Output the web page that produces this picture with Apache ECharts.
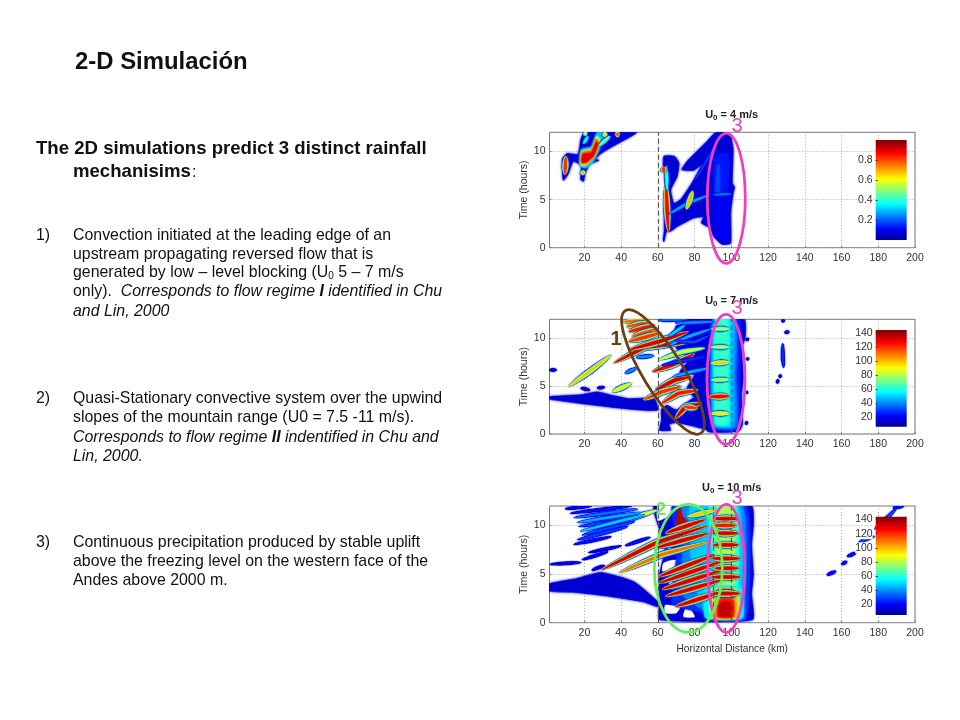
<!DOCTYPE html>
<html><head><meta charset="utf-8">
<style>html,body{margin:0;padding:0;background:#fff}#c{width:960px;height:720px}</style>
<script src="https://cdn.jsdelivr.net/npm/echarts@6/dist/echarts.min.js"></script>
</head><body><div id="c"></div>
<script>
// ---------- axis data ----------
const distanceTicks = [20,40,60,80,100,120,140,160,180,200];
const timeTicks = [0,5,10];
const panelTitles = ['4','7','10'];
const panelMax = [1,145,145];
const barMin = [0,7,5];
const barMax = [1,145,144];
const barTicks1 = [0.2,0.4,0.6,0.8];
const barTicks2 = [20,40,60,80,100,120,140];
const dashed1 = [60];
const dashed2 = [60,100];
const dashed3 = [60,90,100];

// ---------- contour areas: [value, [km, hours], ...] ----------
const areas1 = [
 [0.07,[8.5,7],[8,9.2],[10.5,9.8],[16.5,9.7],[18,11.2],[20,12],[48.5,12],[36,10.6],[29,9.8],[26,9.2],[28,9.1],[23,8.7],[20.5,7.8],[19.5,6.9],[18,7.1],[18.2,8.5],[14,9],[11,7.6]],
 [0.3,[17.5,8.5],[18.3,10.2],[24,10.5],[27,12],[31,12],[28,10.2],[25,9],[21,8.3]],
 [0.55,[18,8.6],[18.6,10],[24,10.3],[26.7,11.6],[28.5,11.2],[25.7,9.6],[21,8.6]],
 [0.75,[18.3,8.8],[18.9,9.9],[24,10.1],[26.5,11.3],[27.8,11],[25.4,9.6],[21,8.8]],
 [0.9,[18.7,8.9],[19.2,9.7],[24,9.9],[26.5,11],[27.3,10.8],[25,9.6],[21,8.9]],
 [0.07,[63.3,0.6],[64.7,1.7],[66.9,1.7],[70.5,2.2],[79.6,3.1],[85,3.2],[83.6,2.6],[88.7,2],[90.5,1.15],[95,0.35],[99.6,0.45],[99.6,3.6],[101,5.7],[101.8,6.3],[100.5,6.7],[101,10.2],[99.6,11.6],[96,12],[91.5,12],[87,11.1],[76,9],[73,8.1],[79.6,8.05],[85,8.8],[78,6.55],[72.4,5],[68.7,4.6],[67,6],[70.5,7.4],[71.5,8.8],[69,9.5],[63.3,9.5],[63,8.5],[65,6.7],[64,5],[63.5,3.2],[63.5,1.7],[62.9,0.8]],
 [0.1,[92,1.2],[98,1],[98,5.3],[91,5.3]],
 [0.13,[91,5.8],[98,5.9],[98,9.8],[91,9.5]],
 [0.18,[91.5,5.6],[92.5,8.6],[93.5,8.6],[93.5,5.7]]
];
const streaks1 = [
 [0.95,65.8,1.6,65,4,64.4,6.8],
 [0.45,65,6,64.6,8.5],
 [0.9,63,8.4,63.4,7.8],
 [0.3,66,3.5,76,4.6,88,5.5],
 [0.75,75.5,4,77.5,5,79,5.9],
 [0.18,80,7,88,9.5,94,11.5],
 [0.24,90,5.5,100,5.6],
 [0.9,9.4,7.6,9.9,9.5],
 [0.75,19,8,19.4,7.6],
 [0.6,20,12,21,11.7],
 [0.7,31,12,31.4,11.5],
 [0.85,37,11.8,39,11.8],
 [0.5,28,10.6,34,11.6],
 [0.4,19.5,10.8,22,11.6]
];

const areas2 = [
 [10,[1,3.9],[18,4.1],[27,4.4],[36,4],[44,3.7],[58,3.7],[60,2.5],[45,2.6],[18,3.2],[1,3.65]],
 [10,[61,0.4],[67,0.4],[66,1],[70,1.2],[80,0.8],[87,0.5],[88,3],[80,3.8],[70,2.5],[65,3],[62,2.6],[62,1.5]],
 [10,[70,11.3],[86,11.2],[88,9],[86,6],[87,3.5],[82,3.4],[76,4.8],[80,6.2],[72,6.5],[78,8],[70,9]],
 [10,[87,0.3],[104,0.3],[106,1],[105.5,4],[106.5,6],[105.5,9],[107.5,10],[107,12],[75,12],[78,11],[83,10.5],[87,9.5],[86,8],[88,6.5],[86,4.5],[87,3]],
 [20,[89,0.6],[104,0.5],[104.5,6],[104.5,12],[89,12]],
 [30,[90,0.8],[103,0.7],[102.5,6],[102.5,12],[90,12]],
 [38,[90.5,0.9],[101.5,0.8],[101.5,6],[101.5,12],[90.5,12]],
 [46,[91,1],[100,0.9],[100,6],[100,12],[91,12]],
 [54,[91.5,1.1],[98.5,1],[98.5,6],[98.5,12],[91.5,12]],
 [60,[92,1.2],[97,1.2],[97,12],[92,12]]
];
const streaks2 = [
 [105,11.2,4.95,24,6.7,34.8,8.3],
 [145,35.8,7.4,53,9.1,78.5,9.65],
 [145,44,8.8,60.3,9.65,76.7,10.7],
 [120,41,11.75,53,11.9],
 [125,43,11.2,54.8,11.7],
 [135,44,10.7,58.5,11.4],
 [125,45.8,10.2,60.3,11.05],
 [130,44,9.65,62,10.6],
 [140,56.7,6.5,67.6,7.2,80,8.4],
 [145,58.5,4.6,69.4,5.65,78.5,6],
 [130,52,3.55,62,4.4,73,5],
 [135,62,3.2,71,4.25,82,4.6],
 [145,69.4,1.6,75,2.85,84,3.2],
 [130,74,2.85,81.5,2.7],
 [100,35,4.4,45.8,5.3],
 [40,42,6.35,48.5,6.9],
 [90,60.3,7.75,73,8.6,85.8,9],
 [45,64,9.1,76.7,10.2,89,11],
 [50,65.7,10.2,74.8,11.4],
 [40,69.4,11.6,91,11.75],
 [35,60,11.9,76,12],
 [15,1,6.7,4.8,6.7],
 [15,18,4.8,23,4.6],
 [15,27,4.8,31,4.9],
 [25,62,7.2,72,7.6,86,8.1],
 [45,68,6,78,6.5,88,6.9],
 [30,70,9.7,80,9.6,88,10.3],
 [40,48,8,58,8.2],
 [20,129,10.6,131.5,10.7],
 [20,128,11.7,128.4,12],
 [25,128,9.5,128,8,128.5,6.9],
 [15,126.5,5.9,126.7,6.2],
 [15,125,5.3,125.4,5.7],
 [10,108,1,108.5,1.3],
 [10,108,4.3,109,4.4],
 [10,108.2,7.8,109.5,7.9],
 [10,108,9.8,109.4,10],
 [100,89,2.15,99,2.15],
 [140,88,3.9,99,3.95],
 [85,89,5.65,99,5.7],
 [105,89,7.4,99,7.5],
 [85,89,9.1,99,9.1],
 [85,89,11,99,11]
];

const areas3 = [
 [10,[1,4],[16,4.55],[28.7,5.17],[39.6,4.7],[47,4.2],[52,3.5],[60,2.15],[60,1.65],[52,2.15],[34,2.7],[16,3.1],[1,3.25]],
 [10,[61,0.3],[111.5,0.3],[111,3],[112,5],[111,8],[112,10],[111,12],[58,12],[62,9],[62,8.5],[64,7.5],[61,5],[61,2]],
 [0,[62.5,5.3],[70,5.6],[73,6.4],[67,6.4],[63,6.1]],
 [0,[64,7],[71,7.2],[67,7.7],[64,7.4]],
 [0,[66,4],[71,4.2],[68,4.5]],
 [0,[64,1],[70,1],[72,1.6],[64,1.8]],
 [0,[74,0.6],[80,0.6],[78,1.3],[75,1.4]],
 [0,[60,10.5],[66,11],[69,12],[60,12]],
 [22,[68,2],[86,1],[108,0.4],[108,12],[68,12],[71,8]],
 [35,[73,3],[88,1],[106,0.4],[106,12],[73,12],[74,8]],
 [45,[82,3],[90.5,1],[104.5,0.6],[104,12],[78,12],[78,7]],
 [60,[92,3],[103,3],[102.5,12],[88,12],[90,7]],
 [76,[93,3],[101,3],[100.5,12],[93,12]],
 [50,[86,0.5],[106,0.5],[105,3.6],[86,3.6]],
 [75,[89,0.5],[104,0.5],[103,3.4],[89,3.4]],
 [100,[91,0.6],[102.5,0.6],[102,3.3],[92,3.3]],
 [122,[92.5,0.6],[101,0.6],[101,2.3],[93,2.3]],
 [135,[93.5,0.7],[100,0.7],[100.3,1.9],[98,2.1],[94,2]],
 [130,[92.5,2.6],[101.5,2.6],[101.2,3.35],[92.5,3.35]],
 [135,[70,9.7],[71,11.1],[72,12],[73,11],[75.5,10.5],[77,9.6]],
 [135,[78,4.4],[79.5,6.2],[81,4.8]]
];
const streaks3 = [
 [145,29,5.4,60,8.3,87.6,10],
 [120,38.5,5.1,62,7,87.6,8.3],
 [145,60.3,4.05,94.8,6.3],
 [145,62,3.4,95,5.4],
 [145,64,2.7,95,4.4],
 [145,69.4,1.65,95,3.2],
 [145,60,4.7,91,7],
 [145,58,7.65,87.6,9.2],
 [145,64,9.2,85.8,10.6],
 [95,36.7,10.2,60,11.6],
 [105,76,10.9,92,11.6],
 [145,90,10.7,104,10.7],
 [135,90,10,103,10],
 [145,90,9.2,104,9.2],
 [145,90,8,104,8],
 [145,89,6.6,105,6.6],
 [145,89,4.7,105,4.7],
 [145,91,5.6,104,5.6],
 [145,89,3,105,3],
 [18,9.4,11.7,24,12],
 [20,12,11.25,45.8,12],
 [35,14,10.8,49.4,11.7],
 [45,15.8,10.3,51.2,11.35],
 [30,16.7,9.9,45.8,10.7],
 [50,17.6,9.4,53,11.1],
 [30,18.5,9,47.6,10.4],
 [28,15.8,8.5,44,9.9],
 [20,14,8.05,34.8,8.85],
 [15,22,7.2,40.3,7.9],
 [15,18.5,6.45,33,7.3],
 [15,24,5.4,31,5.9],
 [15,1,6,18.5,6.2],
 [20,42,7.9,56,8.8],
 [20,152,4.9,157,5.3],
 [20,160,6,163,6.3],
 [20,163,6.8,168,7.2],
 [30,168,7.9,172,8.5,178,8.9],
 [30,178,9.6,186,11,190,11.8],
 [20,188,11.8,194,12]
];
const panelAreas = [areas1,areas2,areas3];
const panelStreaks = [streaks1,streaks2,streaks3];
const dashedLines = [dashed1,dashed2,dashed3];

// ---------- slide text ----------
const heading = '2-D Simulación';
const leadLines = ['The 2D simulations predict 3 distinct rainfall','mechanisims'];
const item1 = ['Convection initiated at the leading edge of an','upstream propagating reversed flow that is','generated by low – level blocking (U{s|0} 5 – 7 m/s','only).  {i|Corresponds to flow regime }{bi|I}{i| identified in Chu}','{i|and Lin, 2000}'];
const item2 = ['Quasi-Stationary convective system over the upwind','slopes of the mountain range (U0 = 7.5 -11 m/s).','{i|Corresponds to flow regime }{bi|II}{i| indentified in Chu and}','{i|Lin, 2000.}'];
const item3 = ['Continuous precipitation produced by stable uplift','above the freezing level on the western face of the','Andes above 2000 m.'];

// ---------- colour scale ----------
const jetStops = [[0,'#00008f'],[0.11,'#0000ff'],[0.36,'#00ffff'],[0.61,'#ffff00'],[0.87,'#ff0000'],[1,'#800000']];
function hex(c){return [1,3,5].map(i=>parseInt(c.substr(i,2),16));}
function jet(f){
  f=Math.max(0,Math.min(1,f));
  for(let i=1;i<jetStops.length;i++){
    if(f<=jetStops[i][0]){
      const a=jetStops[i-1],b=jetStops[i],k=(f-a[0])/(b[0]-a[0]),p=hex(a[1]),q=hex(b[1]);
      return 'rgb('+p.map((v,j)=>Math.round(v+(q[j]-v)*k)).join(',')+')';
    }
  }
  return '#800000';
}
const font='"Liberation Sans", Arial, sans-serif';
const rects=[[549.5,132.3,365.5,115.4],[549.5,319.3,365.5,114.7],[549.5,506,365.5,116.7]];
const barRects=[[875.7,140,31,100],[875.7,330,31,96.7],[875.7,516.7,31,98.3]];

function areaSeries(p){
  const rows=panelAreas[p],mx=panelMax[p];
  return {type:'custom',xAxisIndex:p,yAxisIndex:p,coordinateSystem:'cartesian2d',z:2,clip:true,silent:true,
    data:rows.map((r,i)=>[r[1][0],r[1][1],r[0],i]),
    renderItem:(params,api)=>{
      const r=rows[api.value(3)];
      const pts=r.slice(1).map(q=>api.coord(q));
      const col=r[0]===0?'#ffffff':jet(r[0]/mx);
      return {type:'polygon',shape:{points:pts,smooth:0.15},style:{fill:col,stroke:col,lineWidth:0.6,shadowBlur:r[0]===0?0:2.5,shadowColor:col}};
    }};
}
// Lens-shaped outline around a polyline, pointed at both ends
function lens(pts,halfW,n){
  let seg=[],tot=0;
  for(let i=1;i<pts.length;i++){const d=Math.hypot(pts[i][0]-pts[i-1][0],pts[i][1]-pts[i-1][1]);seg.push(d);tot+=d;}
  const centre=[];
  let i=0,s=0;
  for(let k=0;k<=n;k++){
    const at=tot*k/n;
    while(i<seg.length-1&&s+seg[i]<at){s+=seg[i];i++;}
    const u=seg[i]?(at-s)/seg[i]:0;
    const dx=(pts[i+1][0]-pts[i][0])/(seg[i]||1),dy=(pts[i+1][1]-pts[i][1])/(seg[i]||1);
    centre.push([pts[i][0]+dx*seg[i]*u,pts[i][1]+dy*seg[i]*u,-dy,dx,k/n]);
  }
  const up=[],dn=[];
  centre.forEach(c=>{
    const h=halfW*Math.pow(Math.sin(Math.PI*c[4]),0.6);
    up.push([c[0]+c[2]*h,c[1]+c[3]*h]);
    dn.unshift([c[0]-c[2]*h,c[1]-c[3]*h]);
  });
  return up.concat(dn);
}
const layerValue=[0.09,0.22,0.36,0.48,0.6,0.72,0.84,0.92];
function streakSeries(p){
  const rows=panelStreaks[p],mx=panelMax[p];
  return {type:'custom',xAxisIndex:p,yAxisIndex:p,coordinateSystem:'cartesian2d',z:3,clip:true,silent:true,
    data:rows.map((r,i)=>[r[1],r[2],r[0],i]),
    renderItem:(params,api)=>{
      const r=rows[api.value(3)],pts=[];
      for(let i=1;i<r.length;i+=2)pts.push(api.coord([r[i],r[i+1]]));
      const hw=(1.3+2.6*r[0]/mx);
      return {type:'group',children:layerValue.map((f,j)=>{
        const c=jet(f*r[0]/mx);
        const t=1-j/layerValue.length*0.75;
        const q=lens(pts,hw*t,14);
        return {type:'polygon',shape:{points:q},style:{fill:c,shadowBlur:1.2,shadowColor:c}};
      })};
    }};
}
function dashSeries(p){
  return {type:'line',xAxisIndex:p,yAxisIndex:p,z:4,data:[],silent:true,symbol:'none',
    markLine:{silent:true,symbol:'none',label:{show:false},animation:false,
      lineStyle:{color:'#555',type:[5,3],width:1.2},
      data:dashedLines[p].map(v=>({xAxis:v}))}};
}
function barSeries(p){
  const gx=3+p;
  return {type:'bar',xAxisIndex:gx,yAxisIndex:gx,z:5,silent:true,barWidth:'100%',
    data:[barMax[p]],
    itemStyle:{color:new echarts.graphic.LinearGradient(0,1,0,0,jetStops.map(s=>({offset:s[0],color:s[1]})))}};
}

const grids=[],xAxes=[],yAxes=[],series=[];
for(let p=0;p<3;p++){
  const r=rects[p];
  grids.push({left:r[0],top:r[1],width:r[2],height:r[3],show:true,borderColor:'#777',borderWidth:1,backgroundColor:'#fff',containLabel:false});
  xAxes.push({gridIndex:p,type:'value',min:1,max:200,
    axisLine:{show:false},
    axisTick:{show:true,inside:true,length:2,lineStyle:{color:'#777'},customValues:distanceTicks},
    axisLabel:{customValues:distanceTicks,color:'#333',fontSize:10.5,fontFamily:font,margin:5,hideOverlap:false},
    splitLine:{show:true,lineStyle:{color:'#aaa',type:[1,2],width:1}}});
  yAxes.push({gridIndex:p,type:'value',min:0,max:12,
    name:'Time (hours)',nameLocation:'middle',nameGap:18,nameRotate:90,
    nameTextStyle:{color:'#333',fontSize:10.5,fontFamily:font},
    axisLine:{show:false},
    axisTick:{show:true,inside:true,length:2,lineStyle:{color:'#777'},customValues:timeTicks},
    axisLabel:{customValues:timeTicks,color:'#333',fontSize:10.5,fontFamily:font,margin:4},
    splitLine:{show:true,lineStyle:{color:'#aaa',type:[1,2],width:1}}});
  series.push(areaSeries(p),streakSeries(p),dashSeries(p));
}
xAxes[2].name='Horizontal Distance (km)';
xAxes[2].nameLocation='middle';
xAxes[2].nameGap=21;
xAxes[2].nameTextStyle={color:'#333',fontSize:10.2,fontFamily:font};
for(let p=0;p<3;p++){
  const r=barRects[p];
  grids.push({left:r[0],top:r[1],width:r[2],height:r[3],containLabel:false});
  xAxes.push({gridIndex:3+p,type:'category',data:['c'],show:false});
  const tk=p===0?barTicks1:barTicks2;
  yAxes.push({gridIndex:3+p,type:'value',min:barMin[p],max:barMax[p],z:6,
    axisLine:{show:false},axisTick:{show:true,inside:true,length:2,lineStyle:{color:'#333'},customValues:tk},
    splitLine:{show:false},
    axisLabel:{customValues:tk,color:'#333',fontSize:10.5,fontFamily:font,margin:3,backgroundColor:'#fff'}});
  series.push(barSeries(p));
}

// ---------- slide text and annotations ----------
const g=[];
const richBody={s:{fontSize:10,fontFamily:font,fill:'#111',padding:[6,0,0,0],verticalAlign:'bottom'},
  i:{fontSize:15.9,fontStyle:'italic',fontFamily:font,fill:'#111'},
  bi:{fontSize:15.9,fontStyle:'italic',fontWeight:'bold',fontFamily:font,fill:'#111'}};
function text(x,y,s,o){g.push({type:'text',x:x,y:y,z:20,silent:true,style:Object.assign({text:s,fontFamily:font,fill:'#111',verticalAlign:'middle',align:'left'},o||{})});}
text(75,62,heading,{fontSize:23.9,fontWeight:'bold'});
text(36,149,leadLines[0],{fontSize:18.6,fontWeight:'bold'});
text(73,172,leadLines[1],{fontSize:18.6,fontWeight:'bold'});
text(192,173,':',{fontSize:16});
function block(label,lines,ys){
  text(36,ys[0],label,{fontSize:15.9});
  lines.forEach((l,i)=>text(73,ys[i],l,{fontSize:15.9,rich:richBody}));
}
block('1)',item1,[236,254.5,273,292,312]);
block('2)',item2,[399,418,438,457]);
block('3)',item3,[543,562,581]);
const titleY=[115,301,488];
panelTitles.forEach((t,i)=>{
  g.push({type:'text',x:731.7,y:titleY[i],z:20,silent:true,style:{text:'{a|U}{b|0}{a| = '+t+' m/s}',align:'center',verticalAlign:'middle',
    rich:{a:{fontSize:11,fontWeight:'bold',fontFamily:font,fill:'#222'},b:{fontSize:8,fontWeight:'bold',fontFamily:font,fill:'#222',padding:[5,0,0,0],verticalAlign:'bottom'}}}});
});
function ell(cx,cy,rx,ry,col,rot){g.push({type:'ellipse',x:cx,y:cy,rotation:rot||0,z:18,silent:true,shape:{cx:0,cy:0,rx:rx,ry:ry},style:{fill:null,stroke:col,lineWidth:2.8}});}
const pink='#f13fc0',brown='#6b3f14',green='#66ee55';
ell(726.3,198.3,19,65,pink);
ell(726,379.3,19,65,pink);
ell(663,372,20,72,brown,0.55);
ell(726.3,568.3,18.5,64,pink);
ell(688.3,568.3,34,64,green);
text(737,126,'3',{fontSize:20,fill:pink,align:'center'});
text(737,308,'3',{fontSize:20,fill:pink,align:'center'});
text(737,498,'3',{fontSize:20,fill:pink,align:'center'});
text(616,339,'1',{fontSize:20,fill:brown,align:'center',fontWeight:'bold'});
text(661,510,'2',{fontSize:18,fill:green,align:'center',fontWeight:'bold'});

const chart=echarts.init(document.getElementById('c'));
chart.setOption({animation:false,backgroundColor:'#fff',grid:grids,xAxis:xAxes,yAxis:yAxes,series:series,graphic:{elements:g}});
</script></body></html>
